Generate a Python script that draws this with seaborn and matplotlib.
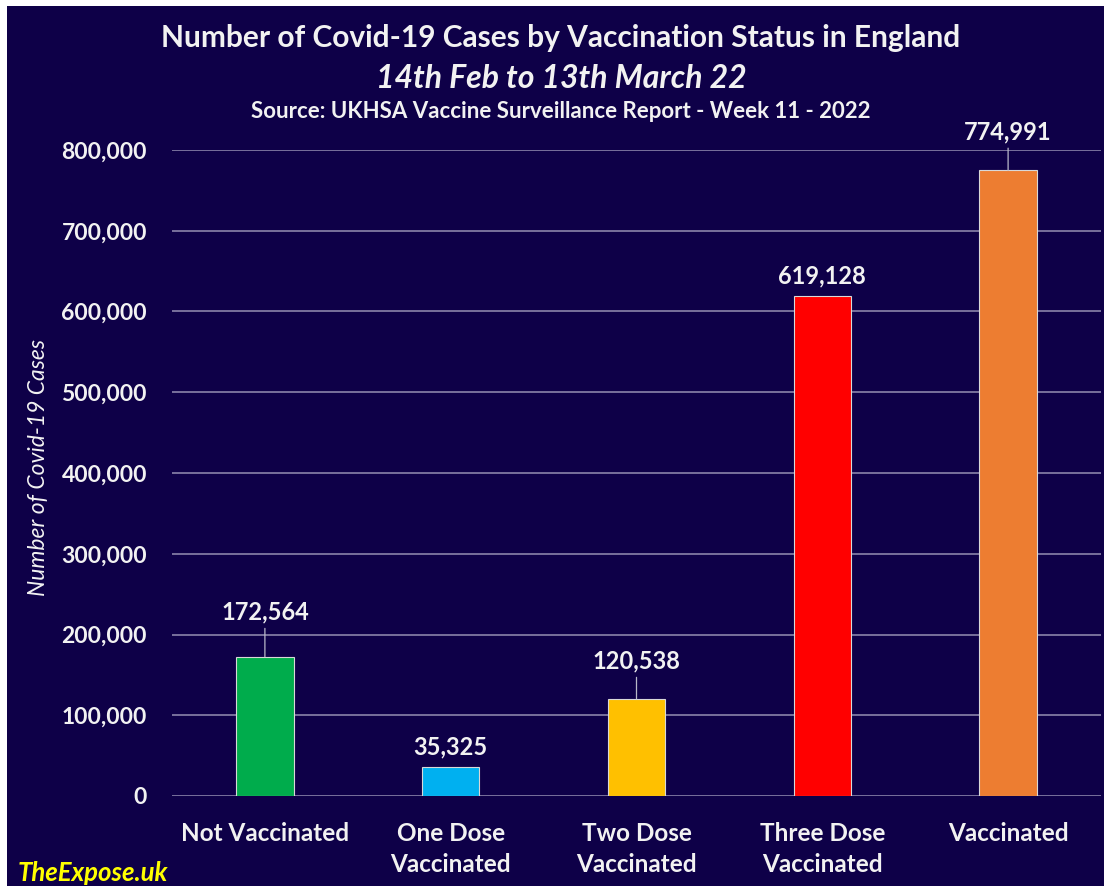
import matplotlib
matplotlib.use("Agg")
import matplotlib.pyplot as plt
import seaborn as sns
import pandas as pd
from matplotlib.ticker import FuncFormatter

# data
categories = ["Not Vaccinated", "One Dose\nVaccinated", "Two Dose\nVaccinated",
              "Three Dose\nVaccinated", "Vaccinated"]
cases = [172564, 35325, 120538, 619128, 774991]
bar_colors = ["#00ac4c", "#00b0f0", "#ffc000", "#ff0000", "#ed7d31"]
yticks = [0, 100000, 200000, 300000, 400000, 500000, 600000, 700000, 800000]

# label centre offsets above bar top (points); leader line where it sits high
label_offset = [32, 14.5, 27, 14.5, 27.5]

BG = "#0e0048"
FG = "#f2f2f2"

sns.set_theme(style="dark")
plt.rcParams["font.family"] = ["Lato", "DejaVu Sans"]

df = pd.DataFrame({"status": categories, "cases": cases})

fig = plt.figure(figsize=(11.04, 8.86), dpi=100)
fig.patch.set_facecolor("white")
# navy panel with thin white margin at top / left
bg = fig.add_axes([7 / 1104, 0, 1 - 7 / 1104, 1 - 6 / 886])
bg.set_facecolor(BG)
bg.set_xticks([])
bg.set_yticks([])
for s in bg.spines.values():
    s.set_visible(False)

ax = fig.add_axes([172 / 1104, (886 - 796) / 886, (1101 - 172) / 1104, (796 - 150) / 886])
ax.set_facecolor("none")

sns.barplot(data=df, x="status", y="cases", hue="status", palette=bar_colors,
            saturation=1, legend=False, width=0.31, edgecolor="#d8d8d8",
            linewidth=0.8, ax=ax, zorder=3)

ax.set_ylim(0, 800000)
ax.set_yticks(yticks)
ax.yaxis.set_major_formatter(FuncFormatter(lambda v, p: f"{int(v):,}"))
ax.grid(axis="y", color="#8a84aa", linewidth=1.2, zorder=0)
ax.grid(axis="x", visible=False)
for s in ax.spines.values():
    s.set_visible(False)
ax.tick_params(axis="y", colors=FG, labelsize=16.5, length=0, pad=18)
ax.tick_params(axis="x", colors=FG, labelsize=17.5, length=0, pad=19)
for lab in ax.get_yticklabels() + ax.get_xticklabels():
    lab.set_fontweight("bold")
    lab.set_linespacing(1.42)
ax.set_xlabel("")
ax.set_ylabel("Number of Covid-19 Cases", color=FG, fontsize=16.5,
              fontstyle="italic")
ax.yaxis.set_label_coords(-0.144, 0.508)
ax.yaxis.label.set_va("center")

for i, (v, off) in enumerate(zip(cases, label_offset)):
    ax.annotate(f"{v:,}", xy=(i, v), xytext=(0, off), textcoords="offset points",
                ha="center", va="center", color=FG, fontsize=17, fontweight="bold",
                arrowprops=dict(arrowstyle="-", color="#b8b8c8", lw=0.9,
                                shrinkA=1, shrinkB=0) if off > 20 else None,
                zorder=4)

fig.text(0.508, 1 - 38 / 886, "Number of Covid-19 Cases by Vaccination Status in England",
         ha="center", va="center", color=FG, fontsize=21.5, fontweight="bold")
fig.text(0.508, 1 - 78 / 886, "14th Feb to 13th March 22", ha="center", va="center",
         color=FG, fontsize=23, fontweight="bold", fontstyle="italic")
fig.text(0.508, 1 - 111 / 886, "Source: UKHSA Vaccine Surveillance Report - Week 11 - 2022",
         ha="center", va="center", color=FG, fontsize=16, fontweight="bold")
fig.text(18 / 1104, 1 - 873 / 886, "TheExpose.uk", ha="left", va="center",
         color="#ffff00", fontsize=18.5, fontweight="bold", fontstyle="italic")

fig.savefig("out.png", dpi=100, facecolor=fig.get_facecolor())
